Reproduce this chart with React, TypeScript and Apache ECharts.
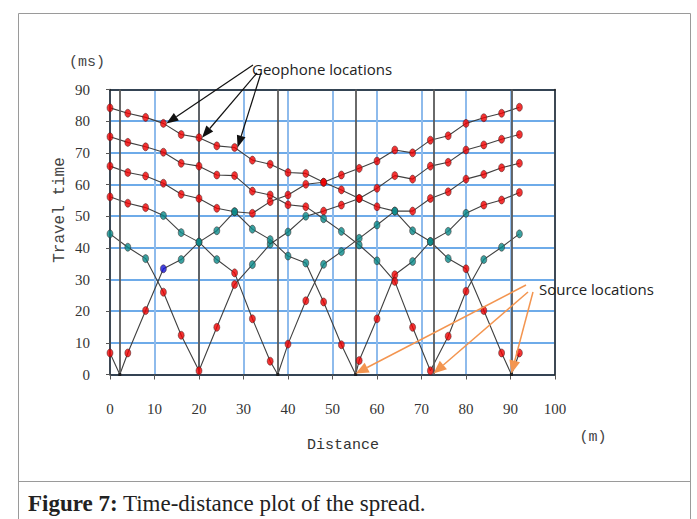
import React, { useEffect, useRef } from "react";
import * as echarts from "echarts";

// ---- data ----
const geophones = [0, 4, 8, 12, 16, 20, 24, 28, 32, 36, 40, 44, 48, 52, 56, 60, 64, 68, 72, 76, 80, 84, 88, 92];
const shot1 = [6.8, 6.8, 20.2, 33.4, 36.3, 41.8, 45.4, 51.4, 50.9, 54.6, 56.7, 60.1, 60.7, 63.0, 65.1, 67.4, 70.9, 70.0, 74.0, 75.4, 79.3, 81.1, 82.5, 84.4];
const shot2 = [44.4, 40.2, 36.6, 26.0, 12.4, 1.2, 14.9, 28.4, 34.7, 41.2, 45.0, 50.0, 51.6, 53.5, 55.6, 58.8, 62.8, 61.7, 65.8, 67.0, 70.9, 72.5, 74.3, 75.8];
const shot3 = [56.1, 54.1, 52.7, 50.2, 44.8, 41.8, 36.3, 32.1, 17.6, 4.2, 9.6, 23.3, 34.8, 38.8, 43.0, 47.2, 51.6, 51.6, 55.6, 57.7, 61.7, 63.2, 65.3, 66.7];
const shot4 = [65.8, 63.8, 62.7, 60.4, 56.9, 55.6, 52.5, 51.4, 45.9, 42.6, 37.4, 35.2, 22.9, 9.4, 4.4, 17.6, 31.5, 35.7, 42.0, 45.2, 50.9, 53.5, 55.1, 57.5];
const shot5 = [75.1, 73.3, 71.9, 70.2, 66.7, 65.8, 63.0, 62.8, 57.9, 56.7, 53.6, 53.0, 49.2, 45.2, 40.9, 35.9, 29.4, 14.9, 1.2, 12.1, 26.3, 36.3, 40.2, 44.4];
const shot6 = [84.2, 82.5, 81.2, 79.3, 75.8, 74.8, 72.2, 71.7, 67.7, 66.4, 63.8, 63.5, 60.7, 58.3, 55.6, 53.0, 51.6, 45.4, 42.0, 36.6, 33.4, 20.2, 6.8, 6.8];
const shots = [shot1, shot2, shot3, shot4, shot5, shot6];

const sourceX = [2.2, 20, 37.7, 55.2, 72.7, 90.2];
const sourceAtGeophone = [false, true, false, false, true, false];

// geophones whose pick is drawn as a "refracted" (teal) arrival, per shot
const refracted1 = [16, 20, 24, 28];
const refracted2 = [0, 4, 8, 32, 36, 40, 44];
const refracted3 = [12, 16, 20, 24, 48, 52, 56, 60, 64];
const refracted4 = [28, 32, 36, 40, 44, 68, 72, 76, 80];
const refracted5 = [48, 52, 56, 60, 84, 88, 92];
const refracted6 = [64, 68, 72, 76];
const refractedByShot = [refracted1, refracted2, refracted3, refracted4, refracted5, refracted6];
const crossoverShot = 0;
const crossoverGeophone = 12;

const xTicks = [0, 10, 20, 30, 40, 50, 60, 70, 80, 90, 100];
const yTicks = [0, 10, 20, 30, 40, 50, 60, 70, 80, 90];

const geophoneArrowShot = 5;
const geophoneArrowTargets = [12, 20, 28];
const sourceArrowShots = [3, 4, 5];

const RED = "#f00000";
const TEAL = "#0a8a8a";
const BLUE = "#1414d8";

function arrow(from: number[], to: number[], color: string, width: number, headLen: number, headW: number) {
  const dx = to[0] - from[0];
  const dy = to[1] - from[1];
  const L = Math.hypot(dx, dy);
  const ux = dx / L;
  const uy = dy / L;
  const bx = to[0] - ux * headLen;
  const by = to[1] - uy * headLen;
  const px = -uy;
  const py = ux;
  return [
    { type: "line", silent: true, z: 50, shape: { x1: from[0], y1: from[1], x2: bx, y2: by }, style: { stroke: color, lineWidth: width } },
    {
      type: "polygon",
      silent: true,
      z: 50,
      shape: { points: [[to[0], to[1]], [bx + (px * headW) / 2, by + (py * headW) / 2], [bx - (px * headW) / 2, by - (py * headW) / 2]] },
      style: { fill: color },
    },
  ];
}

export default function App() {
  const ref = useRef<HTMLDivElement>(null);

  useEffect(() => {
    if (!ref.current) return;
    const chart = echarts.init(ref.current, undefined, { renderer: "svg" });

    const tickFont = "'Liberation Serif', serif";

    const lineSeries = shots.map((times, i) => {
      const pts: number[][] = geophones.map((g, j) => [g, times[j]]);
      if (!sourceAtGeophone[i]) {
        pts.push([sourceX[i], 0]);
        pts.sort((a, b) => a[0] - b[0]);
      }
      const s: any = {
        type: "line",
        data: pts,
        symbol: "none",
        silent: true,
        z: 3,
        lineStyle: { color: "#404040", width: 1.1 },
      };
      if (i === 0) {
        s.markLine = {
          silent: true,
          symbol: ["none", "none"],
          label: { show: false },
          lineStyle: { color: "#5a5a5a", width: 1.8, type: "solid" },
          data: sourceX.map((x) => ({ xAxis: x })),
        };
      }
      return s;
    });

    const pointData: any[] = [];
    shots.forEach((times, i) => {
      geophones.forEach((g, j) => {
        let color = RED;
        if (refractedByShot[i].includes(g)) color = TEAL;
        if (i === crossoverShot && g === crossoverGeophone) color = BLUE;
        pointData.push({ value: [g, times[j]], itemStyle: { color, borderColor: "#3a2020", borderWidth: 0.6 } });
      });
    });

    const sourceDots = sourceX.filter((_, i) => !sourceAtGeophone[i]).map((x) => [x, 0]);

    const option: any = {
      animation: false,
      backgroundColor: "#ffffff",
      grid: { left: 110, top: 89.5, width: 445, height: 285, show: false },
      xAxis: [
        {
          type: "value",
          min: 0,
          max: 100,
          interval: 10,
          axisLine: { show: true, lineStyle: { color: "#222", width: 1.5 } },
          axisTick: { show: true, length: 5, lineStyle: { color: "#555" } },
          axisLabel: { margin: 27, fontFamily: tickFont, fontSize: 15, color: "#333", customValues: xTicks },
          splitLine: { show: true, lineStyle: { color: "#8ebbec", width: 2 } },
        },
        {
          type: "value",
          position: "top",
          min: 0,
          max: 100,
          axisLine: { show: true, onZero: false, lineStyle: { color: "#222", width: 1.5 } },
          axisTick: { show: false },
          axisLabel: { show: false },
          splitLine: { show: false },
        },
      ],
      yAxis: [
        {
          type: "value",
          min: 0,
          max: 90,
          interval: 10,
          axisLine: { show: true, lineStyle: { color: "#222", width: 1.5 } },
          axisTick: { show: true, length: 4, lineStyle: { color: "#555" } },
          axisLabel: { margin: 20, fontFamily: tickFont, fontSize: 15, color: "#333", customValues: yTicks },
          splitLine: { show: true, lineStyle: { color: "#3e8fe2", width: 1.6 } },
        },
        {
          type: "value",
          position: "right",
          min: 0,
          max: 90,
          axisLine: { show: true, onZero: false, lineStyle: { color: "#222", width: 1.5 } },
          axisTick: { show: false },
          axisLabel: { show: false },
          splitLine: { show: false },
        },
      ],
      series: [
        ...lineSeries,
        {
          type: "scatter",
          data: pointData,
          symbol: "circle",
          symbolSize: [6, 8],
          z: 6,
          silent: true,
        },
        {
          type: "scatter",
          data: sourceDots,
          symbol: "rect",
          symbolSize: 3,
          itemStyle: { color: "#111" },
          z: 5,
          silent: true,
        },
      ],
    };

    chart.setOption(option);

    const px = (x: number, y: number) => chart.convertToPixel({ gridIndex: 0 }, [x, y]) as number[];

    const graphics: any[] = [];
    // figure frame
    graphics.push({ type: "polyline", silent: true, shape: { points: [[18.5, 530], [18.5, 13.5], [690.5, 13.5], [690.5, 530]] }, style: { stroke: "#9a9a9a", lineWidth: 1, fill: null } });
    graphics.push({ type: "line", silent: true, shape: { x1: 18, y1: 481.5, x2: 691, y2: 481.5 }, style: { stroke: "#9a9a9a", lineWidth: 1 } });

    const labelFont = "'Liberation Mono', monospace";
    graphics.push({ type: "text", x: 87, y: 62, style: { text: "(ms)", fontFamily: labelFont, fontSize: 15, fill: "#444", align: "center", verticalAlign: "middle", textAlign: "center", textVerticalAlign: "middle" } });
    graphics.push({ type: "text", x: 593, y: 437, style: { text: "(m)", fontFamily: labelFont, fontSize: 15, fill: "#444", align: "center", verticalAlign: "middle", textAlign: "center", textVerticalAlign: "middle" } });
    graphics.push({ type: "text", x: 343, y: 445, style: { text: "Distance", fontFamily: labelFont, fontSize: 15, fill: "#333", align: "center", verticalAlign: "middle", textAlign: "center", textVerticalAlign: "middle" } });
    graphics.push({ type: "text", x: 60, y: 210, rotation: Math.PI / 2, style: { text: "Travel time", fontFamily: labelFont, fontSize: 16, fill: "#444", align: "center", verticalAlign: "middle", textAlign: "center", textVerticalAlign: "middle" } });

    // annotations
    const annoFont = "'Open Sans', 'Noto Sans', sans-serif";
    graphics.push({ type: "text", x: 252, y: 69, style: { text: "Geophone locations", fontFamily: annoFont, fontSize: 15, fill: "#222", align: "left", verticalAlign: "middle", textAlign: "left", textVerticalAlign: "middle" } });
    graphics.push({ type: "text", x: 539, y: 289, style: { text: "Source locations", fontFamily: annoFont, fontSize: 15, fill: "#222", align: "left", verticalAlign: "middle", textAlign: "left", textVerticalAlign: "middle" } });

    const geoStarts = [[253, 65], [257, 73], [261, 73]];
    geophoneArrowTargets.forEach((g, k) => {
      const j = geophones.indexOf(g);
      const p = px(g, shots[geophoneArrowShot][j]);
      graphics.push(...arrow(geoStarts[k], [p[0] + 3, p[1]], "#111", 1.2, 12, 9));
    });

    const srcStarts = [[526, 285], [528, 292], [533, 292]];
    sourceArrowShots.forEach((s, k) => {
      const p = px(sourceX[s], 0);
      graphics.push(...arrow(srcStarts[k], [p[0], p[1] - 1], "#f39550", 1.5, 13, 11));
    });

    // caption
    graphics.push({
      type: "text",
      x: 28,
      y: 503,
      style: {
        text: "{b|Figure 7:} Time-distance plot of the spread.",
        fontFamily: "'Liberation Serif', serif",
        fontSize: 23,
        fill: "#222",
        verticalAlign: "middle",
        textVerticalAlign: "middle",
        rich: { b: { fontFamily: "'Liberation Serif', serif", fontSize: 23, fontWeight: "bold", fill: "#222" } },
      },
    });

    chart.setOption({ graphic: { elements: graphics } });

    return () => chart.dispose();
  }, []);

  return (
    <div
      ref={ref}
      style={{ position: "absolute", left: 0, top: 0, width: 697, height: 519, background: "#fff" }}
    />
  );
}
